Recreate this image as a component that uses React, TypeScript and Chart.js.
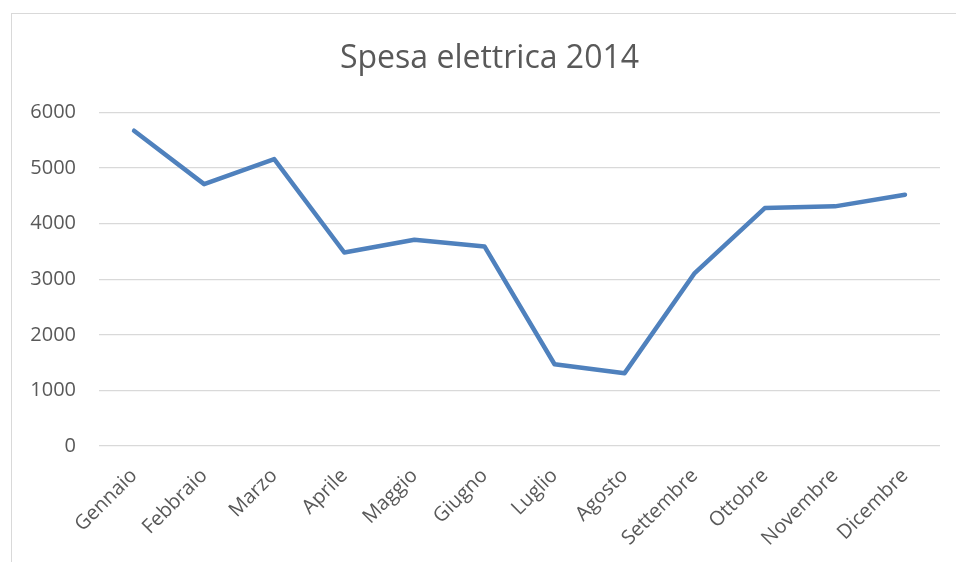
import React, { useEffect, useRef } from "react";
import { Chart, registerables } from "chart.js";

Chart.register(...registerables);

const months = [
  "Gennaio", "Febbraio", "Marzo", "Aprile", "Maggio", "Giugno",
  "Luglio", "Agosto", "Settembre", "Ottobre", "Novembre", "Dicembre",
];
const spesa = [5670, 4710, 5160, 3480, 3710, 3590, 1470, 1310, 3110, 4280, 4310, 4520];
const yMin = 0;
const yMax = 6000;
const yStep = 1000;
const titleText = "Spesa elettrica 2014";

const FONT = "'Open Sans', sans-serif";
const TEXT = "#595959";
const GRID = "#d9d9d9";

export default function App() {
  const ref = useRef<HTMLCanvasElement | null>(null);

  useEffect(() => {
    if (!ref.current) return;
    const chart = new Chart(ref.current, {
      type: "line",
      data: {
        labels: months,
        datasets: [
          {
            data: spesa,
            borderColor: "#4F81BD",
            backgroundColor: "#4F81BD",
            borderWidth: 4.5,
            borderCapStyle: "round",
            borderJoinStyle: "round",
            pointRadius: 0,
            pointHoverRadius: 0,
            tension: 0,
            fill: false,
          },
        ],
      },
      options: {
        responsive: false,
        animation: false,
        devicePixelRatio: 1,
        layout: { padding: { left: 11, right: 16, top: 0, bottom: 0 } },
        plugins: {
          legend: { display: false },
          tooltip: { enabled: false },
          title: {
            display: true,
            text: titleText,
            color: TEXT,
            font: { family: FONT, size: 32, weight: "normal", lineHeight: 1.2 },
            padding: { top: 40, bottom: 34 },
          },
        },
        scales: {
          x: {
            offset: true,
            grid: { display: false },
            border: { display: false },
            ticks: {
              color: TEXT,
              font: { family: FONT, size: 20 },
              minRotation: 45,
              maxRotation: 45,
              padding: 10,
              autoSkip: false,
            },
            afterFit: (s: any) => {
              s.height = 116;
            },
          },
          y: {
            min: yMin,
            max: yMax,
            grid: { color: GRID, lineWidth: 1.3, drawTicks: false },
            border: { display: false },
            ticks: {
              stepSize: yStep,
              color: TEXT,
              font: { family: FONT, size: 20 },
              padding: 23,
              callback: (v: any) => String(v),
            },
            afterFit: (s: any) => {
              s.width = 88;
            },
          },
          yR: {
            type: "linear",
            position: "right",
            display: true,
            grid: { display: false, drawTicks: false },
            border: { display: false },
            ticks: { display: false },
            afterFit: (s: any) => {
              s.width = 28;
            },
          },
        },
      },
    });
    return () => chart.destroy();
  }, []);

  return (
    <div
      style={{
        position: "fixed",
        left: 0,
        top: 0,
        width: 956,
        height: 562,
        overflow: "hidden",
        background: "#ffffff",
      }}
    >
      <div
        style={{
          position: "absolute",
          left: 11,
          top: 13,
          width: 1000,
          height: 600,
          border: `1px solid ${GRID}`,
          boxSizing: "border-box",
        }}
      />
      <canvas
        ref={ref}
        width={984}
        height={562}
        style={{ position: "absolute", left: 0, top: 0, width: 984, height: 562 }}
      />
    </div>
  );
}
